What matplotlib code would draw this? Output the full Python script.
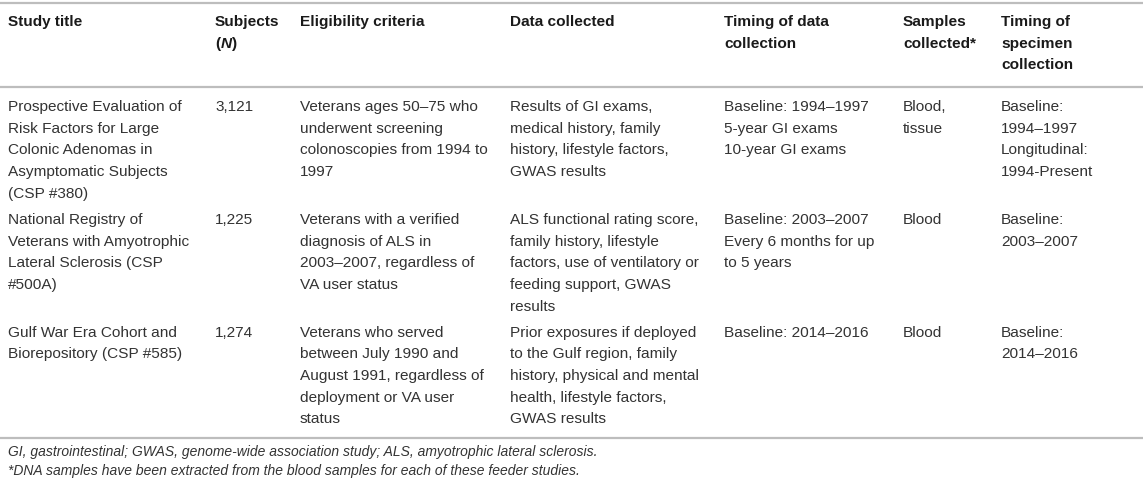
import matplotlib
matplotlib.use("Agg")
import matplotlib.pyplot as plt

plt.rcParams['font.family'] = ['Liberation Sans', 'DejaVu Sans']
plt.rcParams['mathtext.fontset'] = 'custom'
plt.rcParams['mathtext.rm'] = 'Liberation Sans:bold'
plt.rcParams['mathtext.bfit'] = 'Liberation Sans:italic:bold'

# table content
headers = ["Study title", "Subjects\n($\\mathbfit{N}$)", "Eligibility criteria", "Data collected",
           "Timing of data\ncollection", "Samples\ncollected*", "Timing of\nspecimen\ncollection"]

study_titles = ["Prospective Evaluation of\nRisk Factors for Large\nColonic Adenomas in\nAsymptomatic Subjects\n(CSP #380)",
                "National Registry of\nVeterans with Amyotrophic\nLateral Sclerosis (CSP\n#500A)",
                "Gulf War Era Cohort and\nBiorepository (CSP #585)"]
subjects = ["3,121", "1,225", "1,274"]
eligibility = ["Veterans ages 50\u201375 who\nunderwent screening\ncolonoscopies from 1994 to\n1997",
               "Veterans with a verified\ndiagnosis of ALS in\n2003\u20132007, regardless of\nVA user status",
               "Veterans who served\nbetween July 1990 and\nAugust 1991, regardless of\ndeployment or VA user\nstatus"]
data_collected = ["Results of GI exams,\nmedical history, family\nhistory, lifestyle factors,\nGWAS results",
                  "ALS functional rating score,\nfamily history, lifestyle\nfactors, use of ventilatory or\nfeeding support, GWAS\nresults",
                  "Prior exposures if deployed\nto the Gulf region, family\nhistory, physical and mental\nhealth, lifestyle factors,\nGWAS results"]
timing_data = ["Baseline: 1994\u20131997\n5-year GI exams\n10-year GI exams",
               "Baseline: 2003\u20132007\nEvery 6 months for up\nto 5 years",
               "Baseline: 2014\u20132016"]
samples = ["Blood,\ntissue", "Blood", "Blood"]
timing_specimen = ["Baseline:\n1994\u20131997\nLongitudinal:\n1994-Present",
                   "Baseline:\n2003\u20132007",
                   "Baseline:\n2014\u20132016"]

footnotes = ["GI, gastrointestinal; GWAS, genome-wide association study; ALS, amyotrophic lateral sclerosis.",
             "*DNA samples have been extracted from the blood samples for each of these feeder studies."]

columns = [study_titles, subjects, eligibility, data_collected, timing_data, samples, timing_specimen]
col_x = [8, 215, 300, 510, 724, 903, 1001]

W, H = 1143, 486
fig = plt.figure(figsize=(W / 100, H / 100), dpi=100)
ax = fig.add_axes([0, 0, 1, 1])
ax.set_xlim(0, W)
ax.set_ylim(H, 0)
ax.axis('off')

fs = 11.1
lh = 21.7
rule_c = '#bdbdbd'

def rule(y):
    ax.plot([0, W], [y, y], color=rule_c, lw=1.6, solid_capstyle='butt')

rule(3)
# header
for x, h in zip(col_x, headers):
    for k, line in enumerate(h.split("\n")):
        ax.text(x, 22 + k * lh, line, fontsize=fs, fontweight='bold', color='#1a1a1a', va='center', ha='left')
rule(87)

# body
y0 = 107
for r in range(len(study_titles)):
    nmax = 0
    for x, col in zip(col_x, columns):
        lines = col[r].split("\n")
        nmax = max(nmax, len(lines))
        for k, line in enumerate(lines):
            ax.text(x, y0 + k * lh, line, fontsize=fs, color='#333333', va='center', ha='left')
    y0 += (nmax - 1) * lh + 26

rule(438)
for k, f in enumerate(footnotes):
    ax.text(8, 452 + k * 18.5, f, fontsize=10, style='italic', color='#333333', va='center', ha='left')

fig.savefig("out.png", dpi=100)
